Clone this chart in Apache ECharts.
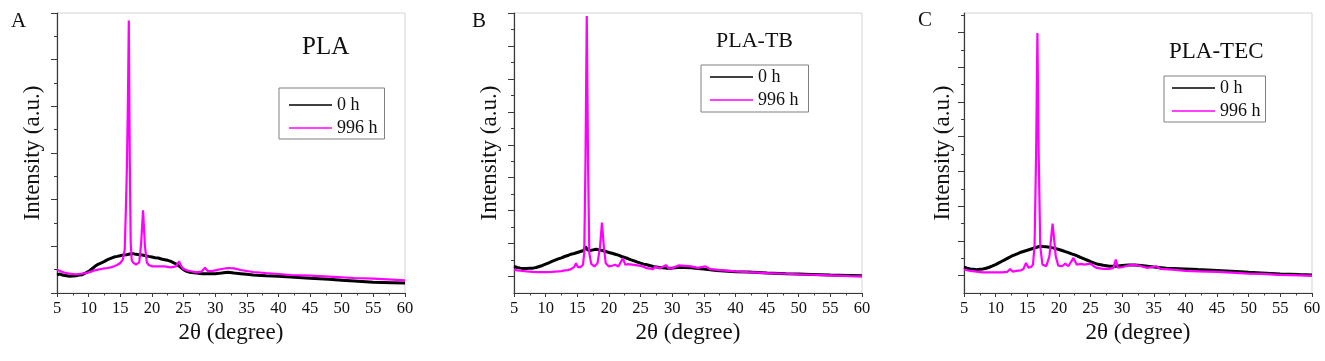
<!DOCTYPE html>
<html>
<head>
<meta charset="utf-8">
<script src="https://cdn.jsdelivr.net/npm/echarts@6.0.0/dist/echarts.min.js"></script>
<style>
    html, body { margin: 0; padding: 0; background: #fff; }
    #main { width: 1325px; height: 361px; }
</style>
</head>
<body>
<div id="main"></div>
<script>
// 2θ positions and intensities (a.u.)

// A: PLA
let plaX0 = [5, 5.5, 6, 6.5, 7, 7.5, 8, 8.5, 9, 9.5, 10, 10.5, 11, 11.5, 12, 12.5, 13, 13.5, 14, 14.5, 15, 15.5, 16, 16.5, 17, 17.5, 18, 18.5, 19, 19.5, 20, 20.5, 21, 21.5, 22, 22.5, 23, 23.5, 24, 24.5, 25, 25.5, 26, 27, 28, 29, 30, 31, 32, 33, 34, 35, 36, 38, 40, 42, 45, 48, 50, 52, 55, 58, 60];
let plaY0 = [393, 407, 378, 371, 357, 364, 371, 386, 393, 428, 464, 514, 571, 614, 643, 678, 714, 743, 771, 785, 800, 814, 821, 835, 843, 828, 821, 814, 800, 785, 771, 757, 750, 728, 714, 700, 678, 643, 607, 557, 500, 464, 443, 428, 414, 414, 414, 428, 443, 428, 414, 400, 386, 371, 357, 343, 314, 293, 271, 257, 229, 221, 214];
let plaX996 = [5, 5.5, 6, 6.5, 7, 7.5, 8, 8.5, 9, 9.5, 10, 10.5, 11, 11.5, 12, 12.5, 13, 13.5, 14, 14.5, 15, 15.4, 15.7, 15.9, 16.05, 16.2, 16.35, 16.5, 16.65, 16.8, 17, 17.5, 18, 18.3, 18.6, 18.9, 19.2, 19.5, 20, 21, 22, 23, 23.8, 24.3, 24.7, 25, 25.5, 26, 27, 27.8, 28.4, 28.8, 29.5, 30, 31, 32, 33, 34, 35, 36, 38, 40, 42, 45, 48, 50, 52, 55, 58, 60];
let plaY996 = [500, 471, 443, 428, 414, 407, 400, 407, 414, 428, 443, 464, 486, 500, 514, 528, 536, 550, 571, 600, 643, 714, 928, 1857, 2714, 4000, 5840, 2857, 1071, 714, 657, 607, 657, 1071, 1771, 1000, 657, 600, 571, 571, 571, 550, 571, 678, 557, 514, 486, 471, 443, 457, 543, 471, 471, 486, 514, 536, 528, 493, 471, 450, 428, 407, 386, 371, 350, 336, 321, 307, 286, 271];

// B: PLA-TB
let tbX0 = [5, 5.5, 6, 6.5, 7, 7.5, 8, 8.5, 9, 9.5, 10, 10.5, 11, 11.5, 12, 12.5, 13, 13.5, 14, 14.5, 15, 15.5, 16, 16.3, 16.6, 17, 17.5, 18, 18.5, 19, 19.5, 20, 20.5, 21, 21.5, 22, 22.5, 23, 23.5, 24, 24.5, 25, 25.5, 26, 27, 28, 29, 30, 31, 32, 33, 34, 35, 37, 40, 42, 45, 48, 50, 52, 55, 58, 60];
let tbY0 = [806, 775, 755, 745, 745, 755, 755, 775, 806, 836, 876, 916, 957, 997, 1037, 1067, 1108, 1138, 1178, 1198, 1229, 1259, 1289, 1410, 1309, 1289, 1309, 1329, 1309, 1289, 1259, 1229, 1208, 1178, 1148, 1108, 1077, 1047, 1007, 977, 937, 906, 876, 856, 806, 775, 755, 755, 775, 775, 765, 745, 725, 685, 644, 634, 604, 584, 574, 564, 544, 534, 524];
let tbX996 = [5, 5.5, 6, 7, 8, 9, 10, 11, 12, 12.5, 13, 13.5, 14, 14.5, 14.8, 15.1, 15.5, 15.9, 16.1, 16.3, 16.5, 16.7, 16.9, 17.2, 17.7, 18.2, 18.6, 18.9, 19.2, 19.5, 20, 20.5, 21, 21.5, 22.2, 22.6, 23, 24, 25, 26, 27, 27.3, 28, 29, 29.5, 30, 31, 32, 33, 34, 35.3, 36, 38, 40, 42, 45, 48, 50, 52, 55, 58, 60];
let tbY996 = [705, 685, 675, 655, 644, 634, 634, 644, 655, 665, 685, 695, 725, 785, 906, 785, 785, 856, 1208, 4028, 8409, 4028, 1208, 886, 806, 906, 1410, 2135, 1410, 906, 806, 826, 856, 806, 1057, 856, 876, 856, 826, 755, 725, 806, 745, 846, 745, 755, 836, 826, 806, 765, 806, 725, 685, 655, 634, 604, 584, 564, 554, 534, 514, 504];

// C: PLA-TEC
let tecX0 = [5, 5.5, 6, 6.5, 7, 7.5, 8, 8.5, 9, 9.5, 10, 10.5, 11, 11.5, 12, 12.5, 13, 13.5, 14, 14.5, 15, 15.5, 16, 16.5, 17, 17.5, 18, 18.5, 19, 19.5, 20, 20.5, 21, 21.5, 22, 22.5, 23, 23.5, 24, 24.5, 25, 25.5, 26, 27, 28, 29, 30, 31, 32, 33, 34, 35, 37, 40, 42, 45, 48, 50, 52, 55, 58, 60];
let tecY0 = [741, 712, 693, 683, 673, 683, 693, 712, 741, 779, 818, 866, 914, 962, 1010, 1058, 1097, 1135, 1174, 1203, 1231, 1260, 1289, 1318, 1347, 1337, 1328, 1318, 1299, 1279, 1251, 1222, 1193, 1164, 1126, 1097, 1058, 1020, 981, 943, 904, 866, 837, 798, 770, 770, 789, 808, 808, 789, 770, 750, 712, 693, 673, 645, 616, 596, 577, 548, 529, 519];
let tecX996 = [5, 5.5, 6, 7, 8, 9, 10, 11, 11.8, 12.3, 12.7, 13, 13.5, 14, 14.4, 14.8, 15.2, 15.6, 15.9, 16.15, 16.4, 16.6, 16.8, 17.05, 17.4, 18, 18.5, 18.8, 19, 19.2, 19.5, 19.9, 20.5, 21, 21.5, 22.3, 22.8, 23.5, 24, 25, 25.5, 26, 27, 28, 28.6, 29, 29.3, 30, 31, 32, 33, 34, 35.4, 36, 38, 40, 42, 45, 48, 50, 52, 55, 58, 60];
let tecY996 = [673, 654, 635, 616, 596, 596, 596, 596, 606, 693, 616, 635, 645, 654, 693, 866, 731, 750, 818, 1347, 4040, 7484, 4040, 1347, 818, 770, 1058, 1635, 2001, 1635, 1058, 789, 770, 847, 770, 1010, 818, 837, 818, 847, 770, 722, 693, 693, 722, 962, 731, 741, 798, 808, 770, 722, 770, 693, 673, 635, 625, 606, 577, 558, 548, 519, 510, 500];

// y 轴刻度（无标签）
let plaMajor = [0, 1000, 2000, 3000, 4000, 5000, 6000];
let plaMinor = [500, 1500, 2500, 3500, 4500, 5500];
let tbMajor = [500, 1500, 2500, 3500, 4500, 5500, 6500, 7500, 8500];
let tbMinor = [1000, 2000, 3000, 4000, 5000, 6000, 7000, 8000];
let tecMajor = [500, 1500, 2500, 3500, 4500, 5500, 6500, 7500];
let tecMinor = [1000, 2000, 3000, 4000, 5000, 6000, 7000, 8000];

let seriesNames = ['0 h', '996 h'];
let seriesColors = ['#000000', '#ff00ff'];

const FONT = '"Liberation Serif", "Times New Roman", serif';

let panels = [
    {label: 'A', title: 'PLA', left: 57, yMax: 6000, major: plaMajor, minor: plaMinor,
     x: [plaX0, plaX996], y: [plaY0, plaY996],
     labelPos: [11, 11], titlePos: [302, 35], titleSize: 25,
     legendPos: [279, 88], legendPad: [8, 7, 2, 10], nameGap: 13},
    {label: 'B', title: 'PLA-TB', left: 514, yMax: 8500, major: tbMajor, minor: tbMinor,
     x: [tbX0, tbX996], y: [tbY0, tbY996],
     labelPos: [472, 11], titlePos: [716, 30], titleSize: 22,
     legendPos: [701, 65], legendPad: [3, 10, 3, 9], nameGap: 13},
    {label: 'C', title: 'PLA-TEC', left: 964, yMax: 8060, major: tecMajor, minor: tecMinor,
     x: [tecX0, tecX996], y: [tecY0, tecY996],
     labelPos: [918, 10], titlePos: [1169, 40], titleSize: 23,
     legendPos: [1164, 76], legendPad: [3, 5, 2, 8], nameGap: 10}
];

function zip(xs, ys) {
    return xs.map((v, i) => [v, ys[i]]);
}

let grid = [], xAxis = [], yAxis = [], series = [], legend = [], graphic = [];

panels.forEach((p, i) => {
    grid.push({
        left: p.left, top: 13, width: 348, height: 280,
        show: true, borderColor: '#d4d4d4', borderWidth: 1
    });
    xAxis.push({
        type: 'value', gridIndex: i, min: 5, max: 60, interval: 5,
        name: '2θ (degree)', nameLocation: 'middle', nameGap: 28,
        nameTextStyle: {fontFamily: FONT, fontSize: 23, color: '#111'},
        axisLine: {lineStyle: {color: '#3a3a3a', width: 1.2}},
        axisTick: {length: 4, lineStyle: {color: '#3a3a3a'}},
        minorTick: {show: true, splitNumber: 2, length: 2.5, lineStyle: {color: '#3a3a3a'}},
        axisLabel: {fontFamily: FONT, fontSize: 16.5, color: '#111', margin: 7},
        splitLine: {show: false}
    });
    // 主刻度轴（带数据）
    yAxis.push({
        type: 'value', gridIndex: i, min: 0, max: p.yMax,
        name: 'Intensity (a.u.)', nameLocation: 'middle', nameGap: p.nameGap,
        nameTextStyle: {fontFamily: FONT, fontSize: 23, color: '#111'},
        axisLine: {show: true, lineStyle: {color: '#3a3a3a', width: 1.2}},
        axisTick: {show: true, length: 6, customValues: p.major, lineStyle: {color: '#3a3a3a'}},
        axisLabel: {show: false},
        splitLine: {show: false}
    });
    // 次刻度轴
    yAxis.push({
        type: 'value', gridIndex: i, min: 0, max: p.yMax, position: 'left',
        axisLine: {show: false},
        axisTick: {show: true, length: 3, customValues: p.minor, lineStyle: {color: '#3a3a3a'}},
        axisLabel: {show: false},
        splitLine: {show: false}
    });
    seriesNames.forEach((name, k) => {
        series.push({
            name: name, type: 'line', xAxisIndex: i, yAxisIndex: i * 2,
            symbol: 'none', smooth: false,
            data: zip(p.x[k], p.y[k]),
            lineStyle: {color: seriesColors[k], width: k === 0 ? 3 : 2.2},
            itemStyle: {color: seriesColors[k]}
        });
    });
    legend.push({
        orient: 'vertical', left: p.legendPos[0], top: p.legendPos[1],
        padding: p.legendPad, itemGap: 5, itemWidth: 43, itemHeight: 14,
        borderColor: '#808080', borderWidth: 1,
        icon: 'path://M0,0H43V1.6H0Z',
        data: seriesNames,
        textStyle: {fontFamily: FONT, fontSize: 18, color: '#111'}
    });
    graphic.push({
        type: 'text', left: p.labelPos[0], top: p.labelPos[1],
        style: {text: p.label, font: '21px ' + FONT, fill: '#111'}
    });
    graphic.push({
        type: 'text', left: p.titlePos[0], top: p.titlePos[1],
        style: {text: p.title, font: p.titleSize + 'px ' + FONT, fill: '#111'}
    });
});

let chart = echarts.init(document.getElementById('main'));
chart.setOption({
    animation: false,
    backgroundColor: '#fff',
    grid: grid,
    xAxis: xAxis,
    yAxis: yAxis,
    legend: legend,
    graphic: graphic,
    series: series
});
</script>
</body>
</html>
